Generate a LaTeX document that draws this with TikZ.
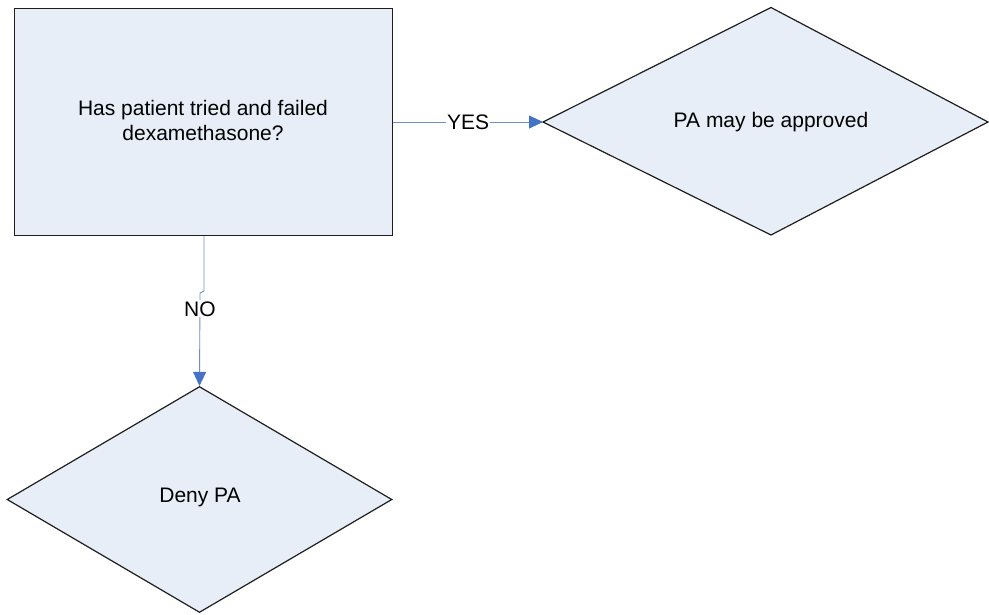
\documentclass[tikz,border=0pt]{standalone}
\usepackage{fontspec}
\setmainfont{Liberation Sans}
\usetikzlibrary{arrows.meta,shapes.geometric}
\definecolor{boxfill}{HTML}{E8EEF7}
\definecolor{boxline}{HTML}{1E1E1E}
\definecolor{conn}{HTML}{6A8FCB}
\definecolor{tipc}{HTML}{4472C4}
\tikzset{
  shapeline/.style={draw=boxline, fill=boxfill, line width=1.2pt},
  conline/.style={draw=conn, line width=0.9pt, -{Triangle[length=14pt,width=13pt,color=tipc]}},
  lbl/.style={fill=white, inner sep=1pt, font=\fontsize{21}{25}\selectfont},
  txt/.style={align=center, font=\fontsize{21}{25}\selectfont}
}
\begin{document}
\begin{tikzpicture}[x=1pt,y=-1pt]
\useasboundingbox (0,0) rectangle (989,614);
% question box
\node[shapeline, rectangle, minimum width=378pt, minimum height=227.5pt, inner sep=0pt, anchor=north west] (q) at (14,7.5) {};
\node[txt] (qt) at (203,120) {Has patient tried and failed\\dexamethasone?};
% approve diamond (asymmetric, clipped at right)
\coordinate (aL) at (543,122);
\coordinate (aT) at (771,7.5);
\coordinate (aR) at (988,122);
\coordinate (aB) at (771,235);
\path[shapeline] (aL) -- (aT) -- (aR) -- (aB) -- cycle;
\node[txt] (at) at (771,122) {PA may be approved};
% deny diamond
\node[shapeline, diamond, minimum width=385pt, minimum height=226pt, inner sep=0pt] (d) at (199.5,499.5) {};
\node[txt] (dt) at (200,497) {Deny PA};
% connectors
\draw[conline] (q.east |- aL) -- node[lbl] {YES} (aL);
\coordinate (n1) at (204,291);
\coordinate (n2) at (200,293);
\draw[conline] (n1 |- q.south) -- (n1) -- (n2) -- node[lbl, pos=0.17] {NO} (d.north);
\end{tikzpicture}
\end{document}
